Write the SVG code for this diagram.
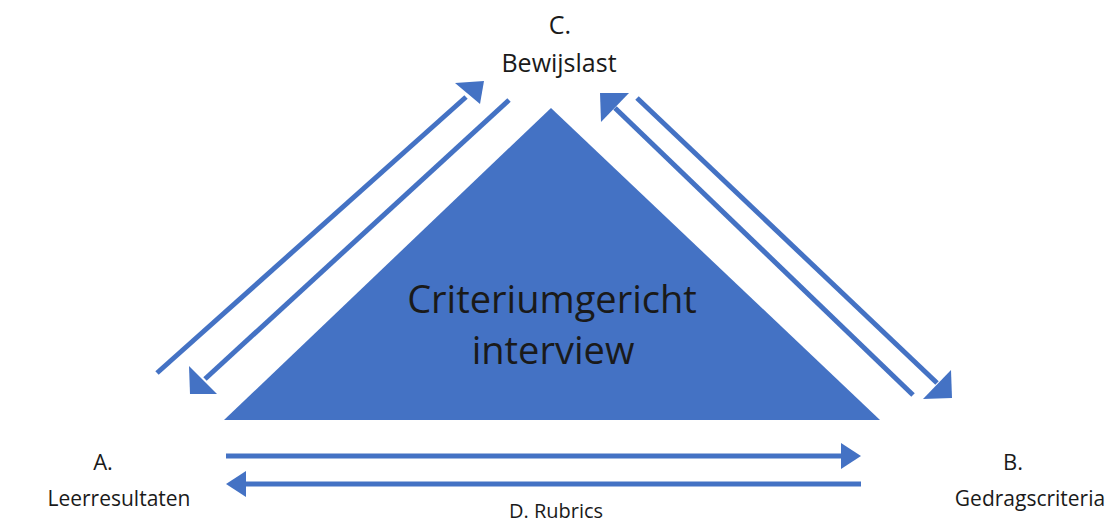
<svg xmlns="http://www.w3.org/2000/svg" width="1117" height="522" viewBox="0 0 1117 522">
<style>
.lbl{font-family:"Open Sans","Liberation Sans",sans-serif;fill:#1a1a1a;text-anchor:middle}
.c{stroke:#4472C4;stroke-width:5;fill:none}
.h{fill:#4472C4}
</style>
<rect width="1117" height="522" fill="#fff"/>
<g id="triangle">
<polygon points="551,108 224,420 880,420" fill="#4472C4"/>
<text class="lbl" x="552" y="313" font-size="38">Criteriumgericht</text>
<text class="lbl" x="553" y="364" font-size="38">interview</text>
</g>
<g id="nodeC">
<text class="lbl" x="560" y="34" font-size="25">C.</text>
<text class="lbl" x="559" y="72" font-size="25">Bewijslast</text>
</g>
<g id="nodeA">
<text class="lbl" x="103" y="470" font-size="22">A.</text>
<text class="lbl" x="119" y="506" font-size="21">Leerresultaten</text>
</g>
<g id="nodeB">
<text class="lbl" x="1013" y="470" font-size="22">B.</text>
<text class="lbl" x="1030" y="506" font-size="21">Gedragscriteria</text>
</g>
<g id="nodeD">
<text class="lbl" x="556" y="518" font-size="20">D. Rubrics</text>
</g>
<g id="connectors">
<line class="c" x1="157" y1="373" x2="466" y2="97"/>
<polygon class="h" points="484,81 455,83 480,104"/>
<line class="c" x1="509" y1="100" x2="205" y2="379"/>
<polygon class="h" points="190,394 189,366 217,394"/>
<line class="c" x1="913" y1="395" x2="615" y2="108"/>
<polygon class="h" points="600,93 601,122 629,93"/>
<line class="c" x1="637" y1="98" x2="937" y2="383"/>
<polygon class="h" points="952,398 951,370 923,399"/>
<line class="c" x1="226" y1="456" x2="842" y2="456"/>
<polygon class="h" points="861,456 841,443 841,469"/>
<line class="c" x1="861" y1="484" x2="244" y2="484"/>
<polygon class="h" points="226,484 246,471 246,497"/>
</g>
</svg>
